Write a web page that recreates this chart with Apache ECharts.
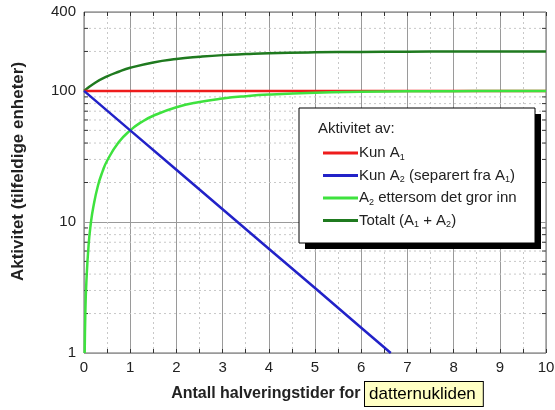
<!DOCTYPE html>
<html>
<head>
<meta charset="utf-8">
<script src="https://cdn.jsdelivr.net/npm/echarts@6/dist/echarts.min.js"></script>
<style>html,body{margin:0;padding:0;background:#fff;}#c{width:555px;height:410px;}</style>
</head>
<body>
<div id="c"></div>
<script>
// Values (x = half-lives of the daughter, y = activity)
const onlyA1 = [[0, 100], [2, 100], [4, 100], [6, 100], [8, 100], [10, 100]];
const onlyA2 = [[0, 100], [1, 50], [2, 25], [3, 12.5], [4, 6.25], [5, 3.13], [6, 1.56], [6.64, 1.0]];
const growIn = [[0.015, 1.0], [0.03, 2.1], [0.05, 3.4], [0.1, 6.7], [0.15, 9.9], [0.2, 12.9], [0.3, 18.8], [0.4, 24.2],
  [0.5, 29.3], [0.75, 40.5], [1, 50], [1.25, 58], [1.5, 64.6], [2, 75], [2.5, 82.3], [3, 87.5], [3.5, 91.2],
  [4, 93.8], [5, 96.9], [6, 98.4], [7, 99.2], [8, 99.6], [9, 99.8], [10, 99.9]];
const total = [[0, 100], [0.25, 116], [0.5, 129], [0.75, 140], [1, 150], [1.5, 165], [2, 175], [2.5, 182],
  [3, 187.5], [3.5, 191], [4, 194], [5, 197], [6, 198.4], [7, 199.2], [8, 199.6], [10, 200]];
const minorY = [2, 3, 4, 5, 6, 7, 8, 9, 20, 30, 40, 50, 60, 70, 80, 90, 200, 300];
const seriesNames = ['Kun A1', 'Kun A2 (separert fra A1)', 'A2 ettersom det gror inn', 'Totalt (A1 + A2)'];
const legendRich = {
  'Kun A1': 'Kun A{s|1}',
  'Kun A2 (separert fra A1)': 'Kun A{s|2} (separert fra A{s|1})',
  'A2 ettersom det gror inn': 'A{s|2} ettersom det gror inn',
  'Totalt (A1 + A2)': 'Totalt (A{s|1} + A{s|2})'
};

const chart = echarts.init(document.getElementById('c'), null, {renderer: 'canvas'});
const FONT = 'Liberation Sans, Arial, sans-serif';

chart.setOption({
  backgroundColor: '#fff',
  animation: false,
  textStyle: {fontFamily: FONT},
  grid: {show: true, borderColor: '#666', borderWidth: 1, backgroundColor: 'transparent',
         left: 84, right: 9, top: 12, bottom: 57, containLabel: false, outerBoundsMode: 'none'},
  xAxis: [{
    type: 'value', min: 0, max: 10, interval: 1,
    axisLine: {show: false},
    axisTick: {show: true, inside: true, length: 4, lineStyle: {color: '#333'}},
    minorTick: {show: true, splitNumber: 2, length: 4, lineStyle: {color: '#333'}},
    axisLabel: {color: '#222', fontSize: 15, margin: 7, fontFamily: FONT},
    splitLine: {show: true, lineStyle: {color: '#9a9a9a', width: 1}},
    minorSplitLine: {show: true, lineStyle: {color: '#c8c8c8', type: [2, 3], width: 1}},
    name: '{b|Antall halveringstider for }{box|datternukliden}',
    nameLocation: 'middle', nameGap: 29,
    nameTextStyle: {
      padding: [0, 0, 0, 24],
      rich: {
        b: {fontSize: 16, fontWeight: 'bold', color: '#222', fontFamily: FONT},
        box: {fontSize: 17, color: '#000', backgroundColor: '#ffffc4', borderColor: '#000', borderWidth: 1,
              padding: [4, 7, 3, 4], fontFamily: FONT}
      }
    }
  }, {
    type: 'value', min: 0, max: 10, interval: 1, position: 'top',
    axisLine: {show: false},
    axisTick: {show: true, inside: true, length: 4, lineStyle: {color: '#333'}},
    minorTick: {show: true, splitNumber: 2, length: 4, lineStyle: {color: '#333'}},
    axisLabel: {show: false}, splitLine: {show: false}
  }],
  yAxis: [{
    type: 'log', logBase: 10, min: 1, max: 400,
    axisLine: {show: false},
    axisTick: {show: false},
    axisLabel: {color: '#222', fontSize: 15, margin: 8, fontFamily: FONT,
                formatter: v => String(Math.round(v))},
    splitLine: {show: true, lineStyle: {color: '#9a9a9a', width: 1}},
    name: 'Aktivitet (tilfeldige enheter)',
    nameLocation: 'middle', nameGap: 57, nameRotate: 90,
    nameTextStyle: {fontSize: 17, fontWeight: 'bold', color: '#222', padding: [0, 0, 0, 22]}
  }],
  legend: {
    data: seriesNames, z: 100,
    orient: 'vertical', left: 318, top: 139,
    itemWidth: 35, itemHeight: 3, itemGap: 4.5,
    icon: 'rect',
    formatter: n => legendRich[n],
    textStyle: {
      fontSize: 15, color: '#222', lineHeight: 18, padding: [0, 0, 0, -4], fontFamily: FONT,
      rich: {s: {fontSize: 9, verticalAlign: 'bottom', padding: [9, 0, 0, 0], color: '#222', fontFamily: FONT}}
    },
    selectedMode: false
  },
  graphic: [{
    type: 'rect', z: 50,
    shape: {x: 305, y: 114, width: 236, height: 135},
    style: {fill: '#000'}
  }, {
    type: 'rect', z: 51,
    shape: {x: 299, y: 108, width: 236, height: 135},
    style: {fill: '#fff', stroke: '#000', lineWidth: 1}
  }, {
    type: 'text', z: 60, left: 318, top: 121,
    style: {text: 'Aktivitet av:', fontSize: 15, fill: '#222', fontFamily: FONT}
  }],
  series: [{
    type: 'custom', name: 'minor', silent: true, z: 1,
    data: minorY.map(v => [0, v]),
    encode: {x: 0, y: 1},
    renderItem: (params, api) => {
      const v = api.value(1);
      const a = api.coord([0, v]);
      const b = api.coord([10, v]);
      return {type: 'group', children: [
        {type: 'line', shape: {x1: a[0], y1: a[1], x2: b[0], y2: b[1]}, style: {stroke: '#c8c8c8', lineWidth: 1, lineDash: [2, 3]}},
        {type: 'line', shape: {x1: a[0], y1: a[1], x2: a[0] + 4, y2: a[1]}, style: {stroke: '#333', lineWidth: 1}},
        {type: 'line', shape: {x1: b[0] - 4, y1: b[1], x2: b[0], y2: b[1]}, style: {stroke: '#333', lineWidth: 1}}
      ]};
    }
  }, {
    type: 'line', name: seriesNames[3], data: total, showSymbol: false, symbol: 'none', smooth: true, z: 3,
    lineStyle: {color: '#1f7a1f', width: 2.5}, itemStyle: {color: '#1f7a1f'}
  }, {
    type: 'line', name: seriesNames[0], data: onlyA1, showSymbol: false, symbol: 'none', z: 3,
    lineStyle: {color: '#ee1c1c', width: 2.5}, itemStyle: {color: '#ee1c1c'}
  }, {
    type: 'line', name: seriesNames[2], data: growIn, showSymbol: false, symbol: 'none', smooth: true, z: 4,
    lineStyle: {color: '#3ee23e', width: 2.5}, itemStyle: {color: '#3ee23e'}
  }, {
    type: 'line', name: seriesNames[1], data: onlyA2, showSymbol: false, symbol: 'none', z: 5,
    lineStyle: {color: '#2222c8', width: 2.5}, itemStyle: {color: '#2222c8'}
  }]
});
</script>
</body>
</html>
